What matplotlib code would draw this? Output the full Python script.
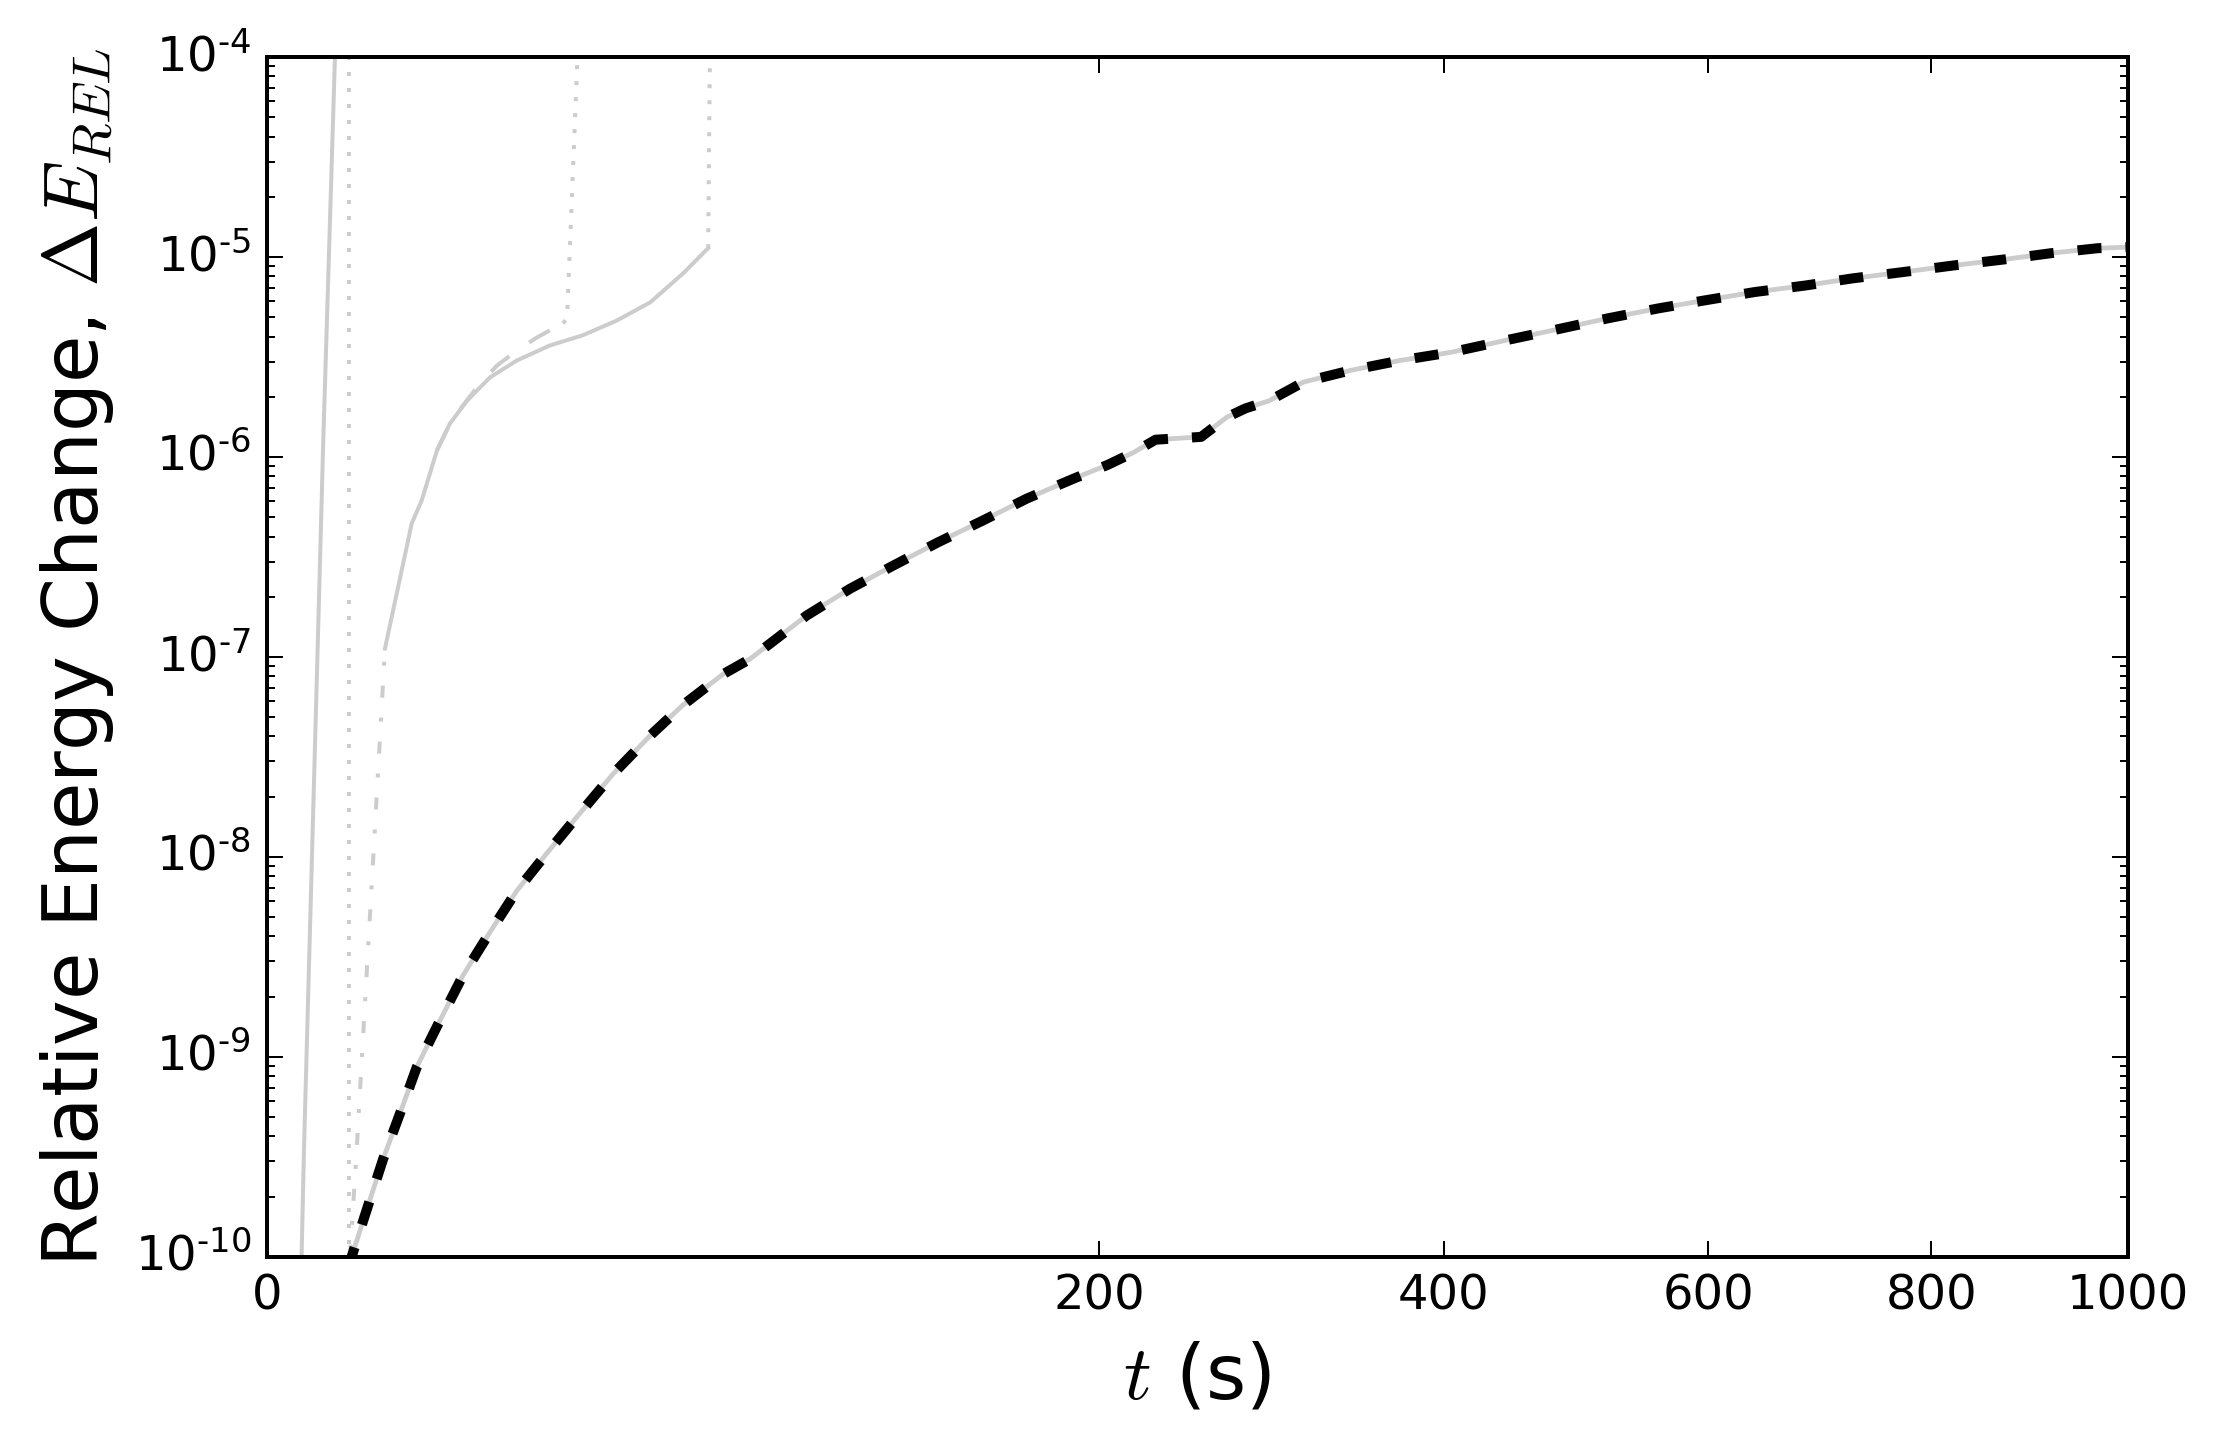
import numpy as np
import matplotlib
matplotlib.use('Agg')
import matplotlib.pyplot as plt
from matplotlib.ticker import FuncFormatter

plt.style.use('classic')

# ── data ─────────────────────────────────────────────────────────────────────
# reference run (black dashed, with a light grey line underneath)
t_ref = [1.95, 2.07, 2.77, 3.89, 5.11, 6.47, 8.32, 11.09, 14.36, 18.0, 22.6,
         27.7, 34.6, 42.4, 50.0, 60.0, 67.4, 84.1, 98.1, 113.2, 130.0, 148.0,
         166.7, 188.0, 204.0, 216.6, 228.0, 240.0, 252.0, 266.0, 276.5, 290.0,
         310.3, 339.0, 371.0, 405.0, 443.0, 477.5, 518.8, 558.7, 597.0, 639.0,
         684.0, 726.0, 773.0, 821.8, 871.8, 919.0, 968.0, 1000.0]
e_ref = [8.5e-11, 1.0e-10, 1.61e-10, 3.07e-10, 5.21e-10, 8.85e-10, 1.41e-9,
         2.55e-9, 4.20e-9, 6.75e-9, 1.04e-8, 1.58e-8, 2.60e-8, 4.04e-8,
         5.75e-8, 8.18e-8, 9.77e-8, 1.61e-7, 2.19e-7, 2.86e-7, 3.74e-7,
         4.81e-7, 6.19e-7, 7.80e-7, 9.12e-7, 1.05e-6, 1.22e-6, 1.24e-6,
         1.26e-6, 1.58e-6, 1.75e-6, 1.91e-6, 2.37e-6, 2.71e-6, 3.04e-6,
         3.34e-6, 3.83e-6, 4.30e-6, 4.93e-6, 5.53e-6, 6.07e-6, 6.68e-6,
         7.21e-6, 7.82e-6, 8.41e-6, 9.08e-6, 9.73e-6, 1.045e-5, 1.107e-5,
         1.12e-5]

# unstable runs (grey)
t_a = [0.30, 0.346, 0.395, 0.864, 0.906, 1.335, 1.37]
e_a = [8.0e-11, 1.0e-10, 3.4e-10, 6.05e-7, 1.08e-6, 1.0e-4, 1.3e-4]

t_b = [1.92, 1.92]
e_b = [8.0e-11, 1.3e-4]

t_c = [1.99, 2.32, 3.26, 4.02]
e_c = [1.0e-10, 3.37e-10, 9.86e-9, 1.10e-7]

t_d = [4.02, 6.05, 6.91, 8.35, 9.67, 11.55, 14.36, 18.05, 23.1, 28.8, 35.4,
       42.4, 50.0, 56.2]
e_d = [1.10e-7, 4.65e-7, 6.05e-7, 1.08e-6, 1.47e-6, 1.91e-6, 2.50e-6,
       3.04e-6, 3.61e-6, 4.06e-6, 4.82e-6, 5.93e-6, 8.28e-6, 1.107e-5]

t_e = [8.35, 9.67, 11.09, 13.1, 15.3, 18.05, 21.05, 25.3]
e_e = [1.08e-6, 1.47e-6, 1.81e-6, 2.33e-6, 2.87e-6, 3.41e-6, 3.96e-6, 4.66e-6]

t_f = [25.3, 26.0, 27.75, 27.9]
e_f = [4.66e-6, 4.9e-6, 8.6e-5, 1.3e-4]

t_g = [56.2, 56.7]
e_g = [1.107e-5, 1.3e-4]

x_ticks = [0, 200, 400, 600, 800, 1000]

# ── figure ───────────────────────────────────────────────────────────────────
DPI = 288
fig = plt.figure(figsize=(2221 / DPI, 1445 / DPI), dpi=DPI, facecolor='white')
ax = fig.add_axes([0.1202, 0.1303, 0.8379, 0.8302])

grey = '0.8'
ax.plot(t_a, e_a, color=grey, lw=1.0, ls='-')
ax.plot(t_b, e_b, color=grey, lw=1.0, ls=':')
ax.plot(t_c, e_c, color=grey, lw=1.0, ls='-.')
ax.plot(t_e, e_e, color=grey, lw=1.0, ls='--')
ax.plot(t_f, e_f, color=grey, lw=1.0, ls=':')
ax.plot(t_g, e_g, color=grey, lw=1.0, ls=':')
ax.plot(t_d, e_d, color=grey, lw=1.0, ls='-')
ax.plot(t_ref, e_ref, color=grey, lw=1.2, ls='-')
ax.plot(t_ref, e_ref, color='black', lw=2.5, ls='--')

ax.set_xscale('function', functions=(lambda x: np.sqrt(np.clip(x, 0, None)),
                                     lambda x: np.square(x)))
ax.set_yscale('log')
ax.set_xlim(0, 1000)
ax.set_ylim(1e-10, 1e-4)
ax.set_xticks(x_ticks)
ax.set_xticklabels([str(v) for v in x_ticks])

HYPHEN = '\u2010'


def log_fmt(v, pos):
    exp = int(round(np.log10(v)))
    sign = HYPHEN if exp < 0 else ''
    return '$\\mathregular{10^{%s%d}}$' % (sign, abs(exp))


ax.yaxis.set_major_formatter(FuncFormatter(log_fmt))
ax.tick_params(labelsize=12)

ax.set_xlabel(r'$t$ (s)', fontsize=19.3)
ax.set_ylabel(r'Relative Energy Change, $\Delta E_{REL}$', fontsize=19.3)
ax.xaxis.set_label_coords(0.5, -0.07)
ax.yaxis.set_label_coords(-0.081, 0.5)

fig.savefig('out.png', dpi=DPI, facecolor='white')
